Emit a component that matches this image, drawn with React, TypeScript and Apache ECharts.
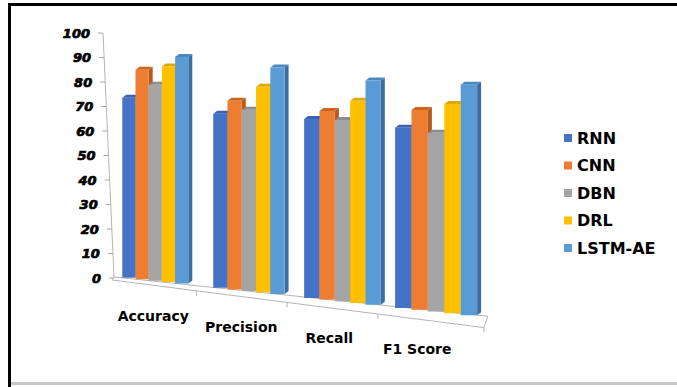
import React, { useEffect, useRef } from "react";
import * as echarts from "echarts";

const categories = ["Accuracy", "Precision", "Recall", "F1 Score"];
const models = ["RNN", "CNN", "DBN", "DRL", "LSTM-AE"];
const rnn = [73.5, 71, 73, 73.5];
const cnn = [85.5, 77, 77, 81.5];
const dbn = [80, 74, 74, 73];
const drl = [88, 84, 82.5, 85.5];
const lstmAe = [92.5, 92.5, 91.5, 94];
const yTicks = [0, 10, 20, 30, 40, 50, 60, 70, 80, 90, 100];

const seriesValues = [rnn, cnn, dbn, drl, lstmAe];
const frontColors = ["#4472C4", "#ED7D31", "#A5A5A5", "#FFC000", "#5B9BD5"];
const sideColors = ["#2E5597", "#B35A1F", "#7A7A7A", "#BF9000", "#3B6E9E"];
const topColors = ["#3863B2", "#C9651F", "#8C8C8C", "#E0A800", "#4A86BF"];

const FONT = '"DejaVu Sans", "Liberation Sans", Arial, sans-serif';
const BASE_SLOPE = 0.11;
const DX = 4;
const DY = 3;

function groupWidth(center: number) {
  return 66 + 0.057 * (center - 155);
}

function makeBarRenderer(s: number) {
  return (params: any, api: any) => {
    const i = api.value(0);
    const v = api.value(1);
    const cs = params.coordSys;
    const zero = api.coord([i, 0]);
    const topV = api.coord([i, v]);
    const h = zero[1] - topV[1];
    const center = zero[0];
    const gw = groupWidth(center);
    const bw = gw / 5;
    const xL = center - gw / 2 + s * bw;
    const xR = xL + bw;
    const xm = (xL + xR) / 2;
    const base = zero[1] - 1 + BASE_SLOPE * (xm - (cs.x + 13.5));
    const top = base - h;
    return {
      type: "group",
      children: [
        {
          type: "polygon",
          shape: {
            points: [
              [xR, base],
              [xR + DX, base - DY],
              [xR + DX, top - DY],
              [xR, top],
            ],
          },
          style: { fill: sideColors[s] },
        },
        {
          type: "polygon",
          shape: {
            points: [
              [xL, top],
              [xL + DX, top - DY],
              [xR + DX, top - DY],
              [xR, top],
            ],
          },
          style: { fill: topColors[s] },
        },
        {
          type: "rect",
          shape: { x: xL, y: top, width: bw, height: base - top },
          style: { fill: frontColors[s] },
        },
      ],
    };
  };
}

function axisX(cs: any, v: number) {
  return cs.x + 5.5 - 11 * (v / 100);
}

const frameRenderer = (params: any, api: any) => {
  const cs = params.coordSys;
  const t = api.value(1);
  const y = api.coord([0, t])[1];
  const ax = axisX(cs, t);
  const children: any[] = [
    {
      type: "line",
      shape: { x1: ax - 5, y1: y, x2: ax, y2: y },
      style: { stroke: "#A6A6A6", lineWidth: 1 },
    },
    {
      type: "text",
      style: {
        text: String(t),
        x: ax - 13,
        y: y,
        align: "right",
        verticalAlign: "middle",
        fill: "#000",
        stroke: "#000",
        lineWidth: 0.7,
        font: `italic bold 13px ${FONT}`,
      },
    },
  ];
  if (params.dataIndex === 0) {
    const top = api.coord([0, 100])[1];
    const y0 = api.coord([0, 0])[1];
    const axB = axisX(cs, 0);
    const axT = axisX(cs, 100);
    const xEnd = cs.x + cs.width;
    const backEndX = xEnd + 5;
    const backEndY = y0 - 1 + 0.105 * (backEndX - axB);
    const frontStartX = axB - 2;
    const frontStartY = y0 + 2;
    const frontEndX = xEnd + 1;
    const frontEndY = frontStartY + 0.128 * (frontEndX - frontStartX);
    const stroke = { stroke: "#B4B4B4", lineWidth: 1 };
    children.push(
      { type: "line", shape: { x1: axT, y1: top, x2: axB, y2: y0 - 1 }, style: stroke },
      { type: "line", shape: { x1: axB, y1: y0 - 1, x2: backEndX, y2: backEndY }, style: stroke },
      { type: "line", shape: { x1: axB, y1: y0 - 1, x2: frontStartX, y2: frontStartY }, style: stroke },
      { type: "line", shape: { x1: frontStartX, y1: frontStartY, x2: frontEndX, y2: frontEndY }, style: stroke },
      { type: "line", shape: { x1: backEndX, y1: backEndY, x2: frontEndX, y2: frontEndY }, style: stroke },
      { type: "line", shape: { x1: frontEndX, y1: frontEndY, x2: frontEndX, y2: frontEndY + 5 }, style: stroke }
    );
    const band = cs.width / categories.length;
    for (let k = 1; k < categories.length; k++) {
      const bx = cs.x + k * band;
      const tx = bx - 3 - 0.03 * (bx - cs.x);
      const ty = frontStartY + 0.128 * (tx - frontStartX);
      children.push({
        type: "line",
        shape: { x1: tx, y1: ty, x2: tx, y2: ty + 5 },
        style: stroke,
      });
    }
  }
  return { type: "group", children };
};

const labelRenderer = (params: any, api: any) => {
  const i = api.value(0);
  const zero = api.coord([i, 0]);
  const cx = zero[0] - 2 - 0.06 * (zero[0] - 155);
  const cy = zero[1] + 38 + 0.125 * (cx - 153);
  return {
    type: "text",
    style: {
      text: categories[i],
      x: cx,
      y: cy,
      align: "center",
      verticalAlign: "middle",
      fill: "#000",
      font: `bold 14px ${FONT}`,
    },
  };
};

export default function App() {
  const ref = useRef<HTMLDivElement>(null);
  useEffect(() => {
    if (!ref.current) return;
    const chart = echarts.init(ref.current, undefined, { renderer: "svg" });
    const barSeries = models.map((name, s) => ({
      name,
      type: "custom",
      coordinateSystem: "cartesian2d",
      renderItem: makeBarRenderer(s),
      itemStyle: { color: frontColors[s] },
      encode: { x: 0, y: 1 },
      data: seriesValues[s].map((v, i) => [i, v]),
      clip: false,
      z: 3,
    }));
    chart.setOption({
      animation: false,
      backgroundColor: "#ffffff",
      grid: { left: 108.5, top: 33, width: 374.4, height: 245 },
      xAxis: {
        type: "category",
        data: categories,
        show: false,
        boundaryGap: true,
      },
      yAxis: {
        type: "value",
        min: 0,
        max: 100,
        interval: 10,
        show: false,
      },
      legend: {
        data: models,
        orient: "vertical",
        left: 559,
        top: 125,
        icon: "rect",
        itemWidth: 8,
        itemHeight: 8,
        itemGap: 11.5,
        textStyle: {
          fontFamily: FONT,
          fontWeight: "bold",
          fontSize: 16,
          lineHeight: 16,
          color: "#000",
        },
      },
      graphic: [
        { type: "rect", shape: { x: 8, y: 3, width: 669, height: 3 }, style: { fill: "#000" } },
        { type: "rect", shape: { x: 8, y: 3, width: 3, height: 384 }, style: { fill: "#000" } },
        { type: "rect", shape: { x: 11, y: 382, width: 666, height: 3 }, style: { fill: "#C8C8C8" } },
      ],
      series: [
        {
          name: "frame",
          type: "custom",
          coordinateSystem: "cartesian2d",
          renderItem: frameRenderer,
          encode: { x: 0, y: 1 },
          data: yTicks.map((t) => [0, t]),
          clip: false,
          silent: true,
          z: 1,
        },
        {
          name: "labels",
          type: "custom",
          coordinateSystem: "cartesian2d",
          renderItem: labelRenderer,
          encode: { x: 0, y: 1 },
          data: categories.map((_, i) => [i, 0]),
          clip: false,
          silent: true,
          z: 1,
        },
        ...barSeries,
      ],
    });
    return () => chart.dispose();
  }, []);
  return (
    <div
      ref={ref}
      style={{ position: "fixed", left: 0, top: 0, width: 677, height: 387, background: "#fff" }}
    />
  );
}
